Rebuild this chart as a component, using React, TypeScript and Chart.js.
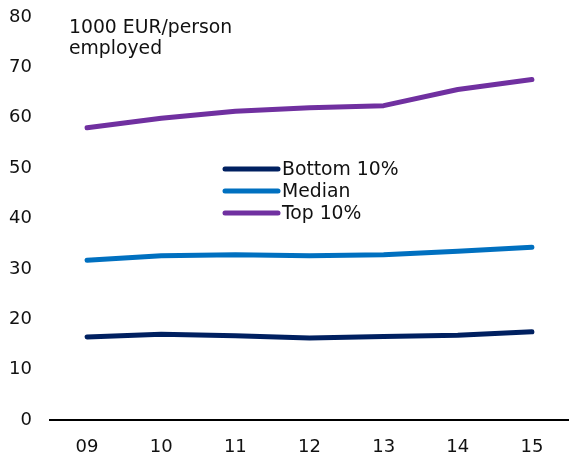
import React, { useEffect, useRef } from "react";
import { Chart, registerables } from "chart.js";

Chart.register(...registerables);

const categories = ["09", "10", "11", "12", "13", "14", "15"];
const bottom10 = [16.5, 17.0, 16.7, 16.3, 16.6, 16.8, 17.5];
const median = [31.7, 32.6, 32.8, 32.6, 32.8, 33.5, 34.3];
const top10 = [58.0, 59.9, 61.3, 62.0, 62.4, 65.6, 67.6];
const seriesNames = ["Bottom 10%", "Median", "Top 10%"];
const seriesColors = ["#002060", "#0070C0", "#7030A0"];
const unitLines = ["1000 EUR/person", "employed"];

const FONT = "'DejaVu Sans', Verdana, sans-serif";
const FS = 18;

const overlayPlugin = {
  id: "overlay",
  afterDraw(chart: any) {
    const ctx = chart.ctx;
    ctx.save();
    ctx.font = `18.8px ${FONT}`;
    ctx.fillStyle = "#111";
    ctx.textBaseline = "middle";
    ctx.textAlign = "left";
    unitLines.forEach((t, i) => ctx.fillText(t, 69, 28 + i * 21));
    // legend
    const ys = [169, 191, 213];
    seriesNames.forEach((name, i) => {
      ctx.strokeStyle = seriesColors[i];
      ctx.lineWidth = 5;
      ctx.lineCap = "round";
      ctx.beginPath();
      ctx.moveTo(225, ys[i]);
      ctx.lineTo(278, ys[i]);
      ctx.stroke();
      ctx.fillStyle = "#111";
      ctx.fillText(name, 282, ys[i] + 1);
    });
    ctx.restore();
  },
};

export default function App() {
  const ref = useRef<HTMLCanvasElement>(null);
  useEffect(() => {
    if (!ref.current) return;
    const mk = (i: number, data: number[]) => ({
      label: seriesNames[i],
      data,
      borderColor: seriesColors[i],
      backgroundColor: seriesColors[i],
      borderWidth: 5,
      pointRadius: 0,
      tension: 0,
      borderCapStyle: "round" as const,
      borderJoinStyle: "round" as const,
    });
    const chart = new Chart(ref.current, {
      type: "line",
      data: {
        labels: categories,
        datasets: [mk(0, bottom10), mk(1, median), mk(2, top10)],
      },
      options: {
        animation: false,
        responsive: false,
        layout: { padding: { top: 4, right: 0, left: 0, bottom: 0 } },
        plugins: { legend: { display: false }, tooltip: { enabled: false } },
        scales: {
          x: {
            offset: true,
            grid: { display: false, drawTicks: false },
            border: { display: true, color: "#000", width: 2 },
            ticks: { color: "#111", font: { family: FONT, size: FS }, padding: 17, maxRotation: 0 },
            afterFit: (s: any) => { s.height = 37; },
          },
          y: {
            min: 0,
            max: 80,
            grid: { display: false, drawTicks: false },
            border: { display: false },
            ticks: { stepSize: 10, color: "#111", font: { family: FONT, size: FS }, padding: 18 },
            afterFit: (s: any) => { s.width = 50; s.paddingTop = 17; s.paddingBottom = 0; },
          },
        },
      },
      plugins: [overlayPlugin],
    });
    return () => chart.destroy();
  }, []);
  return (
    <div style={{ position: "fixed", left: 0, top: 0, width: 569, height: 457, background: "#fff" }}>
      <canvas ref={ref} width={569} height={457} />
    </div>
  );
}
